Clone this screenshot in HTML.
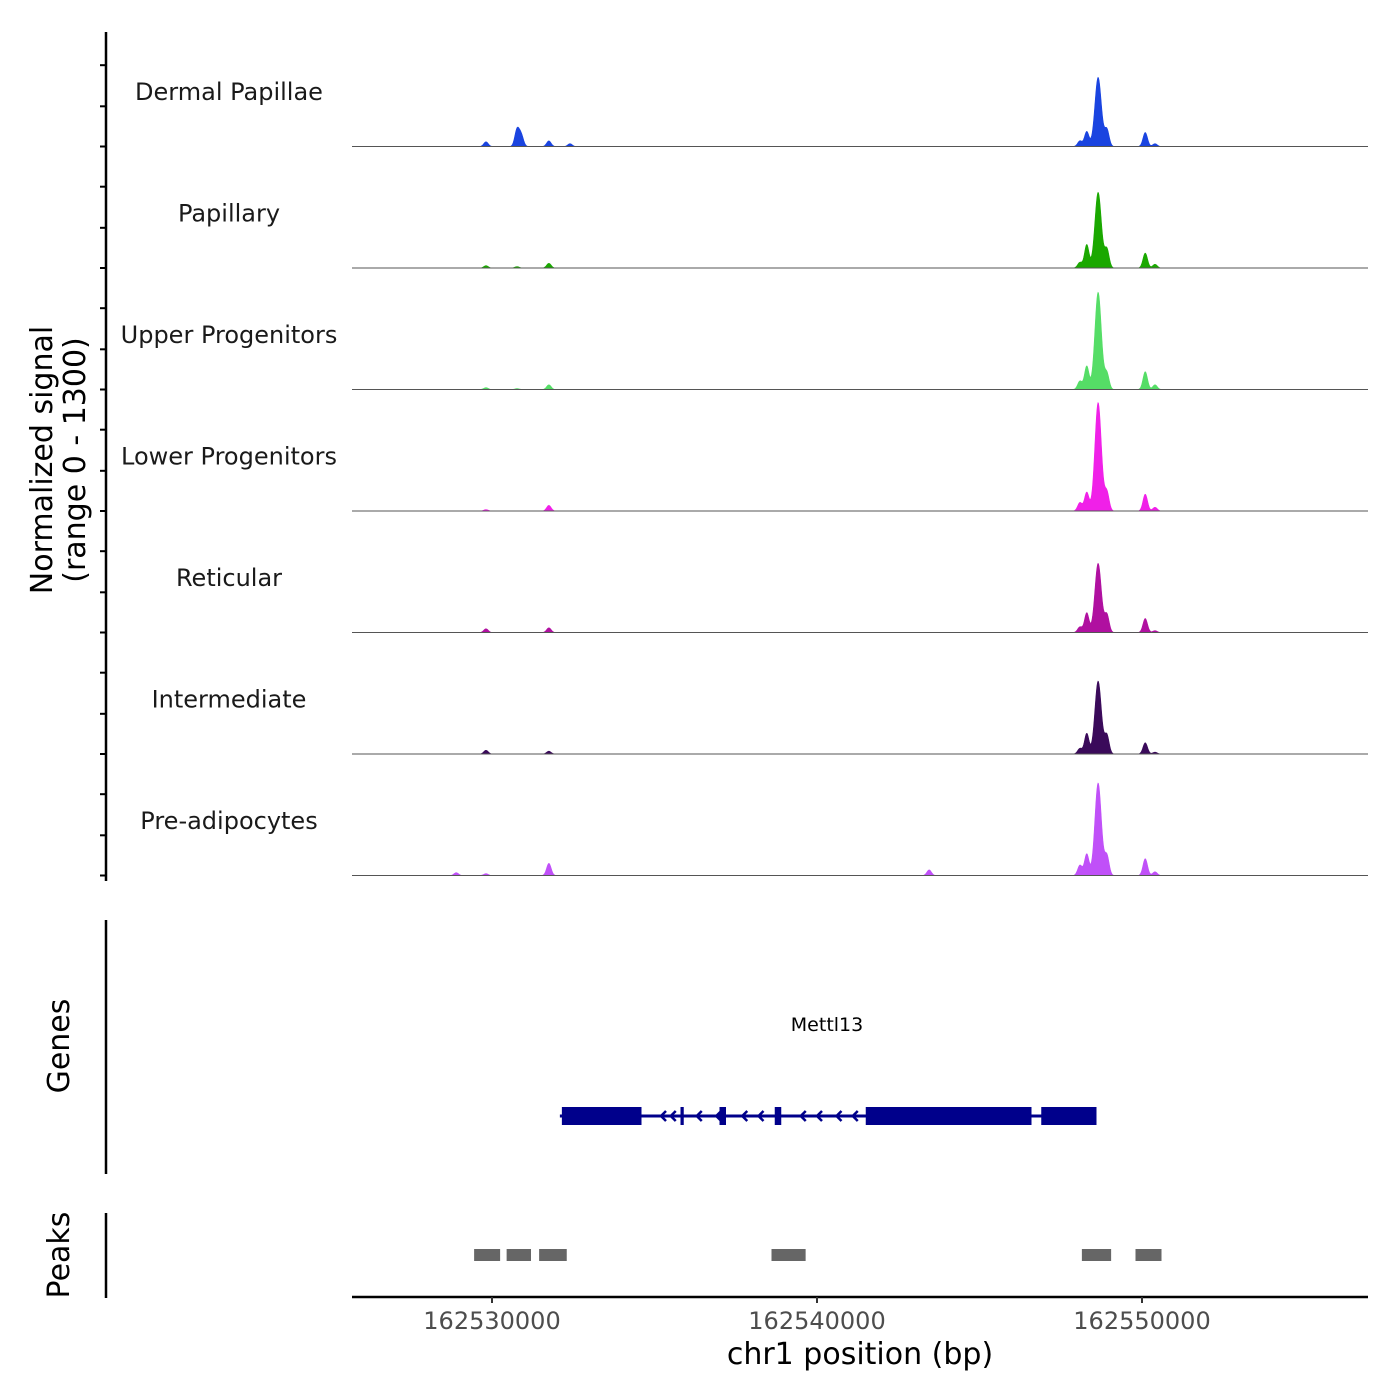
<!DOCTYPE html>
<html><head><meta charset="utf-8"><style>
body{margin:0;background:#fff}
svg{display:block;font-family:"DejaVu Sans","Liberation Sans",sans-serif}
</style></head><body>
<svg id="chart" width="1400" height="1400" viewBox="0 0 1400 1400" xmlns="http://www.w3.org/2000/svg">
<g id="tracks"></g>
<g id="yaxis"></g>
<text transform="translate(52,460) rotate(-90)" text-anchor="middle" font-size="30" fill="#000">Normalized signal</text>
<text transform="translate(85,460) rotate(-90)" text-anchor="middle" font-size="30" fill="#000">(range 0 - 1300)</text>
<line x1="106" y1="920" x2="106" y2="1174" stroke="#000" stroke-width="2.5"/>
<text transform="translate(69,1046) rotate(-90)" text-anchor="middle" font-size="30" fill="#000">Genes</text>
<line x1="106" y1="1213" x2="106" y2="1298" stroke="#000" stroke-width="2.5"/>
<text transform="translate(69,1255) rotate(-90)" text-anchor="middle" font-size="30" fill="#000">Peaks</text>
<text x="827" y="1031" text-anchor="middle" font-size="19" fill="#000">Mettl13</text>
<g id="gene"></g>
<g id="peaks"></g>
<g id="xaxis"></g>
<text x="860" y="1364" text-anchor="middle" font-size="30" fill="#000">chr1 position (bp)</text>
</svg>
<script>
// data (positions offset from 162500000)
const trackNames = ["Dermal Papillae","Papillary","Upper Progenitors","Lower Progenitors","Reticular","Intermediate","Pre-adipocytes"];
const trackColors = ["#1a44e0","#1aa800","#55dd66","#f020e8","#b010a0","#3a0a5a","#c050f8"];
const peakPos = [28900,29815,30770,30900,31750,32400,43450,48090,48300,48650,48920,50100,50400];
const sigDP  = [0,50,180,120,60,30,0,60,160,740,180,150,30];
const sigPap = [0,25,15,0,50,0,0,60,250,810,200,160,40];
const sigUp  = [0,20,10,0,50,0,0,90,250,1040,170,190,50];
const sigLow = [0,15,0,0,60,0,0,90,200,1160,200,180,40];
const sigRet = [0,40,0,0,50,0,0,60,210,740,190,150,20];
const sigInt = [0,40,0,0,30,0,0,60,220,780,200,120,20];
const sigPre = [30,20,0,0,130,0,60,110,230,990,210,180,40];
const signals = [sigDP,sigPap,sigUp,sigLow,sigRet,sigInt,sigPre];
const xTicks = [30000,40000,50000];
const xTickLabels = ["162530000","162540000","162550000"];
const exons = [[32150,34600],[35800,35900],[37000,37200],[38700,38900],[41500,46600],[46900,48600]];
const arrows = [35200,35500,36300,36900,37700,38200,39500,40000,40600,41100];
const geneRange = [32150,48600];
const peakRegions = [[29450,30250],[30450,31200],[31450,32300],[38600,39650],[48150,49050],[49800,50600]];
const yMax = 1300;

const NS="http://www.w3.org/2000/svg";
const x0=352,x1=1368;
const X = bp => 492 + (bp-30000)*0.0325;
const bpFromX = px => 30000 + (px-492)/0.0325;
const trackTop = i => 25 + i*121.5;
const trackH = 121.5;
function mk(tag, attrs, parent){const e=document.createElementNS(NS,tag);for(const k in attrs)e.setAttribute(k,attrs[k]);parent.appendChild(e);return e;}

const tg=document.getElementById('tracks');
signals.forEach((sig,i)=>{
  const base=trackTop(i)+trackH;
  const Y = v => base - v/yMax*trackH;
  let d=`M${x0},${base}`;
  for(let px=x0;px<=x1;px+=0.5){
    const bp=bpFromX(px);let v=0;
    for(let k=0;k<peakPos.length;k++){const s=k===9?100:70;const z=(bp-peakPos[k])/s;v+=sig[k]*Math.exp(-0.5*z*z);}
    d+=`L${px},${Y(v).toFixed(2)}`;
  }
  d+=`L${x1},${base}Z`;
  const p=mk('path',{d:d,fill:trackColors[i],stroke:trackColors[i],'stroke-width':0.6},tg);
  
  
  const l=mk('line',{x1:x0,x2:x1,y1:base,y2:base,stroke:'#555','stroke-width':1},tg);
  
  
  const t=mk('text',{x:229,y:trackTop(i)+75,'text-anchor':'middle','font-size':24,fill:'#1a1a1a'},tg);
  t.textContent=trackNames[i];
  
  
});
const ya=document.getElementById('yaxis');
mk('line',{x1:106,x2:106,y1:32,y2:881,stroke:'#000','stroke-width':2.5},ya);
signals.forEach((s,i)=>{
  const base=trackTop(i)+trackH;
  [0,430,870].forEach(v=>{const y=base-v/yMax*trackH;mk('line',{x1:100,x2:106,y1:y,y2:y,stroke:'#000','stroke-width':2},ya);});
});
const g=document.getElementById('gene');
const gy=1116;
mk('line',{x1:X(geneRange[0])-2,x2:X(geneRange[1]),y1:gy,y2:gy,stroke:'#00008b','stroke-width':3},g);
exons.forEach(e=>{const r=mk('rect',{x:X(e[0]),y:gy-9,width:Math.max(3,X(e[1])-X(e[0])),height:18,fill:'#00008b'},g);
  });
arrows.forEach(a=>{const ax=X(a);const p=mk('path',{d:`M${ax+5},${gy-5}L${ax},${gy}L${ax+5},${gy+5}`,fill:'none',stroke:'#00008b','stroke-width':2.5},g);
  });
const pk=document.getElementById('peaks');
peakRegions.forEach(r=>{const e=mk('rect',{x:X(r[0]),y:1249,width:X(r[1])-X(r[0]),height:12,fill:'#666'},pk);
  });
const xa=document.getElementById('xaxis');
mk('line',{x1:x0,x2:x1,y1:1297,y2:1297,stroke:'#000','stroke-width':2.5},xa);
xTicks.forEach((t,i)=>{
  mk('line',{x1:X(t),x2:X(t),y1:1297,y2:1303,stroke:'#333','stroke-width':2},xa);
  const tx=mk('text',{x:X(t),y:1329,'text-anchor':'middle','font-size':24,fill:'#4d4d4d'},xa);
  tx.textContent=xTickLabels[i];
  
  
});
</script>
</body></html>
